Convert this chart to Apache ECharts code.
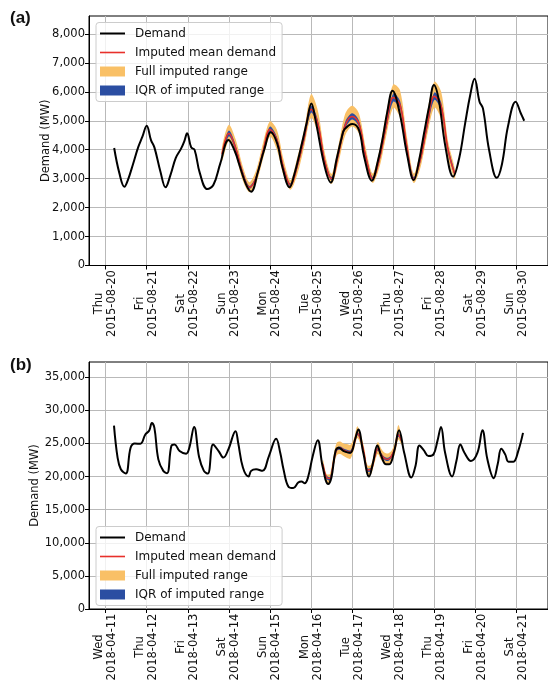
<!DOCTYPE html>
<html lang="en">
<head>
<meta charset="UTF-8">
<title>Imputed demand</title>
<script src="https://cdn.jsdelivr.net/npm/echarts@6/dist/echarts.min.js"></script>
<style>body{margin:0;background:#fff}</style>
</head>
<body>
<div id="chart" style="width:548px;height:684px"></div>
<script>
// (a) 2015-08-20 .. 2015-08-30, hours counted from midnight of the first day
var startA = Date.UTC(2015, 7, 20);
var hrsA = [5, 8, 11, 13, 16, 19, 21.5, 24, 26.5, 28.5, 32, 35, 38, 41, 44, 46, 47.6, 50, 52, 55,
    59.4, 63, 67, 71.8, 75.6, 78, 82, 85, 89, 92.6, 96.5, 100.3, 103.2, 107.5, 110, 114.7, 117.5, 120.2, 122.6, 128,
    131.5, 135, 138, 139.5, 144.2, 148, 151, 155.5, 159, 162, 164.5, 167.6, 171.8, 176, 180, 183, 186, 189, 191.8, 194.6,
    198.5, 203, 206.5, 210, 213, 215.5, 218.4, 220.4, 224, 228.5, 231.5, 235, 239.5, 242.5, 244.5];
var demandA = [4060, 3200, 2720, 2950, 3500, 4080, 4450, 4830, 4330, 4080, 3250, 2700, 3150, 3720, 4030, 4300, 4570, 4080, 3990, 3200,
    2640, 2790, 3530, 4340, 3930, 3500, 2800, 2550, 3250, 3990, 4600, 4200, 3410, 2700, 3100, 4220, 4950, 5600, 5030, 3410,
    2870, 3700, 4450, 4700, 4890, 4680, 3760, 2930, 3600, 4450, 5300, 6040, 5260, 3860, 2950, 3600, 4570, 5500, 6240, 5720,
    4100, 3070, 3700, 4910, 5900, 6450, 5660, 5430, 3990, 3030, 3500, 4800, 5660, 5260, 5000];
var impHrsA = [68, 72, 76, 80, 84, 88, 92, 96, 100, 104, 108, 112, 116, 120, 124, 128, 132, 136, 140, 144,
    148, 152, 156, 160, 164, 168, 172, 176, 180, 184, 188, 192, 196, 200, 204];
var meanA = [3850, 4560, 4050, 3200, 2700, 3050, 3950, 4700, 4350, 3350, 2780, 3450, 4400, 5400, 4900, 3600, 3000, 3850, 4850, 5150,
    4900, 3750, 3000, 3700, 4850, 5800, 5550, 4100, 3000, 3700, 4900, 5850, 5500, 4000, 3150];
var q1A = [3760, 4460, 3950, 3120, 2650, 2980, 3860, 4600, 4250, 3260, 2730, 3360, 4290, 5280, 4780, 3500, 2950, 3760, 4730, 5040,
    4790, 3650, 2950, 3600, 4730, 5660, 5420, 3990, 2950, 3600, 4770, 5720, 5370, 3890, 3090];
var q3A = [3940, 4660, 4150, 3290, 2750, 3120, 4040, 4800, 4450, 3440, 2830, 3540, 4510, 5520, 5020, 3700, 3060, 3940, 4970, 5260,
    5010, 3850, 3060, 3800, 4970, 5940, 5680, 4210, 3060, 3800, 5030, 5980, 5630, 4110, 3210];
var loA = [3600, 4300, 3800, 2950, 2530, 2850, 3700, 4450, 4000, 3100, 2620, 3150, 4100, 5100, 4550, 3350, 2820, 3550, 4500, 4800,
    4550, 3500, 2850, 3400, 4500, 5450, 5100, 3800, 2850, 3400, 4550, 5450, 5050, 3700, 2980];
var hiA = [4100, 4860, 4350, 3450, 2880, 3300, 4250, 4980, 4700, 3650, 2950, 3750, 4700, 5920, 5350, 3900, 3170, 4150, 5250, 5520,
    5250, 4050, 3180, 4000, 5300, 6250, 6050, 4450, 3180, 4000, 5350, 6350, 6000, 4300, 3330];

// (b) 2018-04-11 .. 2018-04-21
var startB = Date.UTC(2018, 3, 11);
var hrsB = [4.9, 7, 8.9, 11.8, 14.6, 17, 20.3, 23.2, 25.5, 27, 28.5, 30.8, 33.7, 35.9, 38.4, 40.3, 43.2, 47, 48.9, 51.7,
    54.6, 57.4, 59.7, 62.8, 66, 68.8, 71.7, 75.9, 77.4, 80.2, 83.5, 85, 87.9, 91.6, 95.4, 99.6, 102, 103.9, 106.8, 109.6,
    112.5, 114.4, 116.3, 118.2, 121, 123.9, 126.7, 130, 131.9, 134.3, 136.2, 139.1, 142.9, 145.7, 147.6, 150.5, 153.9, 156.2, 158.7, 161,
    163.8, 165.7, 168.6, 171.4, 174.4, 178.6, 181, 183.3, 185.8, 188.6, 191.5, 193.8, 195.9, 198.3, 202.4, 204.9, 207.2, 209.6, 213.4, 217.2,
    220.1, 223, 226.7, 229, 231.1, 233.4, 235.3, 238.2, 241, 243.8];
var demandB = [27700, 22860, 21100, 20460, 24350, 25000, 24950, 26350, 26950, 28100, 27350, 22600, 20860, 20510, 24600, 24850, 23850, 23450, 24350, 27500,
    22950, 20860, 20460, 24850, 23850, 22860, 24100, 26850, 25150, 21360, 20000, 20860, 21100, 20860, 23100, 25700, 23600, 21100, 18460, 18260,
    19100, 19260, 19000, 19850, 23100, 25500, 21600, 18860, 19850, 23850, 24350, 23850, 23600, 25600, 27100, 23600, 20010, 22100, 24700, 23100,
    21850, 21850, 23850, 27000, 23600, 19850, 21600, 24700, 24000, 23100, 23350, 25350, 27500, 23600, 20010, 22350, 24850, 23600, 22350, 23600,
    27000, 22600, 19760, 21850, 24200, 23350, 22250, 22250, 23850, 26600];
var impHrsB = [127, 129, 131, 133, 135, 137, 139, 141, 143, 145, 147, 149, 151, 153, 155, 157, 159, 161, 163, 165, 167, 169, 171, 173];
var meanB = [21800, 19900, 19700, 22000, 24100, 24300, 24000, 23800, 23700, 24800, 26500, 25600, 23500, 21000, 21100, 22800, 24200, 23300, 22700, 22600, 23100, 24300, 26300, 25300];
var q1B = [21600, 19650, 19450, 21750, 23850, 24050, 23750, 23550, 23450, 24550, 26250, 25350, 23250, 20750, 20850, 22550, 23950, 23050, 22450, 22350, 22850, 24050, 26000, 25100];
var q3B = [22000, 20150, 19950, 22250, 24350, 24550, 24250, 24050, 23950, 25050, 26750, 25850, 23750, 21250, 21350, 23050, 24450, 23550, 22950, 22850, 23350, 24550, 26550, 25500];
var loB = [21000, 19100, 19000, 21300, 23200, 23400, 23100, 22800, 22700, 24000, 25800, 24800, 22700, 20300, 20300, 22000, 23400, 22500, 22000, 21800, 22300, 23500, 25600, 24800];
var hiB = [22500, 20400, 20400, 23000, 25100, 25300, 25000, 24900, 24800, 25700, 27600, 26400, 24400, 21700, 21800, 23600, 25200, 24200, 23600, 23500, 23900, 25200, 27800, 25800];

var FONT = 'DejaVu Sans';
var HOUR = 3600000, DAY = 86400000;
var ORANGE = '#f9c066', BLUE = '#2b4ea2', RED = '#e8302b';
var WEEK = ['Sun', 'Mon', 'Tue', 'Wed', 'Thu', 'Fri', 'Sat'];

function pts(start, hrs, vals) {
    return hrs.map(function (h, i) { return [start + h * HOUR, vals[i]]; });
}

function comma(v) {
    return String(v).replace(/\B(?=(\d{3})+(?!\d))/g, ',');
}

function dayLabel(v) {
    var d = new Date(v);
    return '{w|' + WEEK[d.getUTCDay()] + '}\n{w|' + d.toISOString().slice(0, 10) + '}';
}

function xAxisFor(gi, start) {
    var days = [];
    for (var i = 0; i <= 10; i++) days.push(start + i * DAY);
    return {
        type: 'value', gridIndex: gi,
        min: start - 9.7 * HOUR, max: start + 258.4 * HOUR,
        axisLine: {lineStyle: {color: '#000', width: 1}},
        axisTick: {customValues: days, length: 4, lineStyle: {color: '#000'}},
        axisLabel: {
            customValues: days, rotate: 90, margin: 4, formatter: dayLabel,
            rich: {w: {width: 68, align: 'center', fontFamily: FONT, fontSize: 11.5, lineHeight: 13, color: '#111'}}
        },
        splitLine: {show: true, lineStyle: {color: '#b9b9b9', width: 1}}
    };
}

function yAxisFor(gi, max, step, top, gap) {
    var ticks = [];
    for (var v = 0; v <= top; v += step) ticks.push(v);
    return {
        type: 'value', gridIndex: gi, min: 0, max: max, interval: step,
        name: 'Demand (MW)', nameLocation: 'middle', nameGap: gap, nameMoveOverlap: false,
        nameTextStyle: {fontFamily: FONT, fontSize: 11.5, color: '#111'},
        axisLine: {show: true, lineStyle: {color: '#000', width: 1}},
        axisTick: {show: true, customValues: ticks, length: 4, lineStyle: {color: '#000'}},
        axisLabel: {customValues: ticks, formatter: comma, margin: 4, fontFamily: FONT, fontSize: 11.5, color: '#111'},
        splitLine: {show: true, lineStyle: {color: '#b9b9b9', width: 1}}
    };
}

// filled range between lo and hi, drawn as one polygon through the axis scales
function band(gi, start, hrs, lo, hi, name, color) {
    var upper = pts(start, hrs, hi);
    var lower = pts(start, hrs, lo).reverse();
    return {
        name: name, type: 'custom', xAxisIndex: gi, yAxisIndex: gi,
        color: color, itemStyle: {color: color}, silent: true,
        data: hrs.map(function (h, i) { return [start + h * HOUR, lo[i], hi[i]]; }),
        encode: {x: 0, y: [1, 2]},
        renderItem: function (params, api) {
            if (params.dataIndex !== 0) return null;
            var p = upper.concat(lower).map(function (d) { return api.coord(d); });
            return {type: 'polygon', shape: {points: p, smooth: 0.3}, style: {fill: color}};
        }
    };
}

function line(gi, start, hrs, vals, name, color, w) {
    return {
        name: name, type: 'line', xAxisIndex: gi, yAxisIndex: gi,
        smooth: 0.4, symbol: 'none', color: color, lineStyle: {color: color, width: w},
        data: pts(start, hrs, vals)
    };
}

function panel(gi, start, hrs, demand, ih, lo, hi, q1, q3, mean) {
    return [
        band(gi, start, ih, lo, hi, 'Full imputed range', ORANGE),
        band(gi, start, ih, q1, q3, 'IQR of imputed range', BLUE),
        line(gi, start, ih, mean, 'Imputed mean demand', RED, 1.5),
        line(gi, start, hrs, demand, 'Demand', '#000', 2)
    ];
}

function legendAt(top) {
    return {
        orient: 'vertical', left: 96, top: top, padding: [4, 6, 4, 4],
        itemWidth: 25, itemHeight: 10, itemGap: 5,
        backgroundColor: 'rgba(255,255,255,0.8)', borderColor: '#cccccc', borderWidth: 1, borderRadius: 3,
        textStyle: {fontFamily: FONT, fontSize: 12, color: '#111', lineHeight: 14, padding: [0, 0, 0, 5]},
        itemStyle: {borderWidth: 0},
        selectedMode: false,
        data: [
            {name: 'Demand', icon: 'path://M0,0H25V2H0Z'},
            {name: 'Imputed mean demand', icon: 'path://M0,0H25V1.6H0Z'},
            {name: 'Full imputed range', icon: 'rect'},
            {name: 'IQR of imputed range', icon: 'rect'}
        ]
    };
}

var chart = echarts.init(document.getElementById('chart'), null, {renderer: 'canvas'});
chart.setOption({
    backgroundColor: '#fff',
    animation: false,
    grid: [
        {left: 89, top: 16, width: 470, height: 249.5, show: true, borderColor: '#000', borderWidth: 1, backgroundColor: 'transparent'},
        {left: 89, top: 362, width: 470, height: 249.5, show: true, borderColor: '#000', borderWidth: 1, backgroundColor: 'transparent'}
    ],
    xAxis: [xAxisFor(0, startA), xAxisFor(1, startB)],
    yAxis: [yAxisFor(0, 8620, 1000, 8000, 37), yAxisFor(1, 37300, 5000, 35000, 48)],
    legend: [legendAt(22.5), legendAt(526.5)],
    graphic: [
        {type: 'text', left: 10, top: 10, style: {text: '(a)', fontFamily: 'Liberation Sans', fontWeight: 'bold', fontSize: 17, fill: '#111'}},
        {type: 'text', left: 10, top: 357, style: {text: '(b)', fontFamily: 'Liberation Sans', fontWeight: 'bold', fontSize: 17, fill: '#111'}}
    ],
    series: [].concat(
        panel(0, startA, hrsA, demandA, impHrsA, loA, hiA, q1A, q3A, meanA),
        panel(1, startB, hrsB, demandB, impHrsB, loB, hiB, q1B, q3B, meanB)
    )
});
</script>
</body>
</html>
